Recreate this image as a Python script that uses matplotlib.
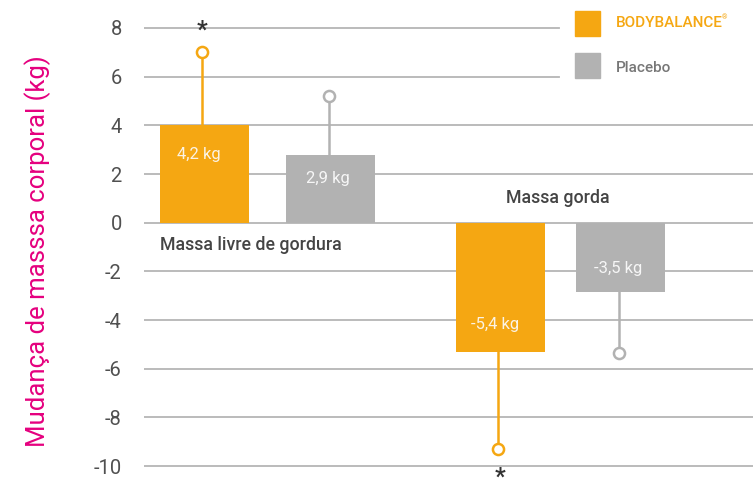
import numpy as np
import matplotlib
matplotlib.use('Agg')
import matplotlib.pyplot as plt

plt.rcParams['font.family'] = ['Roboto', 'DejaVu Sans']

# data
groups = ['Massa livre de gordura', 'Massa gorda']
series = ['BODYBALANCE®', 'Placebo']
bodybalance = [4.0, -5.33]
placebo = [2.8, -2.85]
bodybalance_err = [7.0, -9.3]
placebo_err = [5.2, -5.35]
bodybalance_lbl = ['4,2 kg', '-5,4 kg']
placebo_lbl = ['2,9 kg', '-3,5 kg']
yticks = [8, 6, 4, 2, 0, -2, -4, -6, -8, -10]

orange = '#F5A712'
grey = '#B2B2B2'
grid_c = '#B5B5B5'
text_c = '#444444'

fig = plt.figure(figsize=(7.53, 4.87), dpi=100)
ax = fig.add_axes([144 / 753, 0, 1 - 144 / 753, 1])
ax.set_ylim(-10.86, 9.15)
ax.set_xlim(-0.4215, 1.657)
for s in ax.spines.values():
    s.set_visible(False)

# grid (top two lines stop before the legend)
for t in yticks:
    xmax = 0.681 if t >= 6 else 1.0
    ax.axhline(t, xmin=0, xmax=xmax, color=grid_c, lw=1.3, zorder=1)

x = np.arange(len(groups))
off = np.array([0.215, 0.205])
w = 0.304

ax.bar(x - off, bodybalance, w, color=orange, zorder=3)
ax.bar(x + off, placebo, w, color=grey, zorder=3)

# one-sided error whiskers with open circle ends
for xs, base, err, c in [(x - off - 0.008, bodybalance, bodybalance_err, orange),
                         (x + off - 0.006, placebo, placebo_err, grey)]:
    for xi, b, e in zip(xs, base, err):
        ax.plot([xi, xi], [b, e], color=c, lw=1.8, zorder=2)
        ax.plot(xi, e, 'o', ms=8, mfc='white', mec=c, mew=1.8, zorder=4)

# value labels inside bars
lbl_y_bb = [2.8, -4.2]
lbl_y_pl = [1.8, -1.9]
for i in range(len(groups)):
    ax.text(x[i] - off[i] - 0.02, lbl_y_bb[i], bodybalance_lbl[i], color='#FBF3E4',
            fontsize=12, ha='center', va='center', zorder=5)
    ax.text(x[i] + off[i] - 0.01, lbl_y_pl[i], placebo_lbl[i], color='#F6F6F6',
            fontsize=12, ha='center', va='center', zorder=5)

# significance stars
ax.text(x[0] - off[0] - 0.008, 7.9, '*', fontsize=17, fontweight='bold', color='#333333',
        ha='center', va='center', zorder=5)
ax.text(x[1] - off[1], -10.45, '*', fontsize=17, fontweight='bold', color='#333333',
        ha='center', va='center', zorder=5)

# group labels
ax.text(-0.367, -0.9, groups[0], fontsize=12.8, fontweight='medium', color=text_c,
        ha='left', va='center')
ax.text(0.99, 1.0, groups[1], fontsize=12.8, fontweight='medium', color=text_c,
        ha='center', va='center')

ax.set_yticks(yticks)
ax.set_yticklabels([str(t) for t in yticks], fontsize=14.5, color='#505050')
ax.tick_params(axis='y', length=0, pad=16)
ax.set_xticks([])

fig.text(38 / 753, 1 - 251 / 487, 'Mudança de masssa corporal (kg)', rotation=90,
         fontsize=18.5, color='#E5007E', ha='center', va='center')

# legend drawn by hand
sq = 25 / 753
fig.patches.append(plt.Rectangle((575 / 753, 1 - 36 / 487), sq, 25 / 487,
                                 transform=fig.transFigure, color=orange))
fig.patches.append(plt.Rectangle((575 / 753, 1 - 78 / 487), sq, 25 / 487,
                                 transform=fig.transFigure, color=grey))
fig.text(616 / 753, 1 - 23 / 487, 'BODYBALANCE', fontsize=11, fontweight='medium',
         color=orange, ha='left', va='center')
fig.text(722 / 753, 1 - 18 / 487, '®', fontsize=5, color=orange, ha='left', va='center')
fig.text(616 / 753, 1 - 68 / 487, series[1], fontsize=11, fontweight='medium',
         color='#777777', ha='left', va='center')

fig.savefig('out.png', dpi=100)
